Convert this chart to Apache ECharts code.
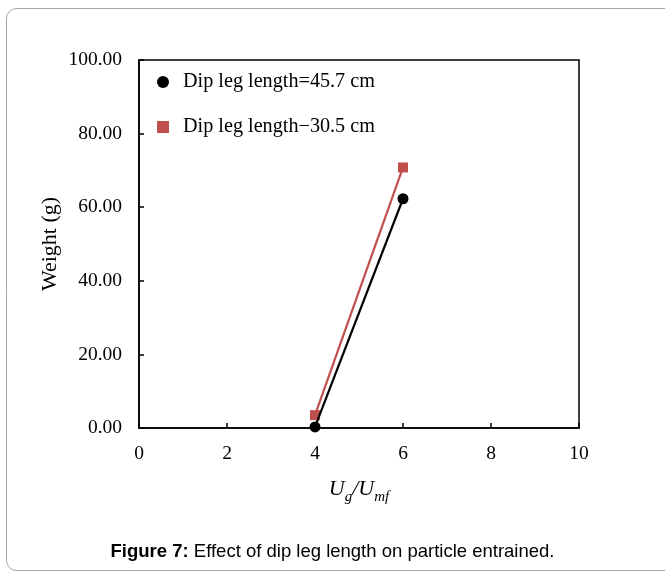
<!DOCTYPE html>
<html>
<head>
<meta charset="utf-8">
<script src="https://cdn.jsdelivr.net/npm/echarts@6/dist/echarts.min.js"></script>
<style>
  html, body { margin: 0; padding: 0; background: #fff; }
  #chart { width: 665px; height: 572px; }
</style>
</head>
<body>
<div id="chart"></div>
<script>
// values
const ugUmf = [4, 6]
const dipLeg457 = [0.3, 62.3]
const dipLeg305 = [3.5, 70.8]
const seriesNames = ['Dip leg length=45.7 cm', 'Dip leg length\u221230.5 cm']
const xTicks = [0, 2, 4, 6, 8, 10]
const yTicks = [0, 20, 40, 60, 80, 100]

const serif = 'Liberation Serif'
const red = '#c0504d'

const myChart = echarts.init(document.getElementById('chart'))

const option = {
  animation: false,
  backgroundColor: '#fff',
  title: {
    text: '{b|Figure 7:} Effect of dip leg length on particle entrained.',
    left: 'center',
    top: 537,
    textStyle: {
      fontFamily: 'Liberation Sans',
      fontSize: 18.5,
      fontWeight: 'normal',
      color: '#000',
      rich: {
        b: { fontFamily: 'Liberation Sans', fontSize: 18.5, fontWeight: 'bold', color: '#000' }
      }
    }
  },
  graphic: [{
    type: 'rect',
    shape: { x: 6.5, y: 8.5, width: 700, height: 562, r: 10 },
    style: { fill: 'none', stroke: '#a6a6a6', lineWidth: 1 },
    z: -1
  }],
  legend: {
    orient: 'vertical',
    left: 152,
    top: 67,
    itemGap: 25,
    itemWidth: 12,
    itemHeight: 12,
    textStyle: { fontFamily: serif, fontSize: 20.2, color: '#000', padding: [0, 0, 0, 9] },
    data: [
      { name: seriesNames[0], icon: 'circle' },
      { name: seriesNames[1], icon: 'rect' }
    ]
  },
  grid: {
    left: 139,
    top: 60,
    width: 440,
    height: 368,
    show: true,
    borderColor: '#000',
    borderWidth: 1.5,
    containLabel: false
  },
  xAxis: {
    type: 'value',
    min: xTicks[0],
    max: xTicks[xTicks.length - 1],
    interval: 2,
    name: '{i|U}{s|g}{i|/U}{s|mf}',
    nameLocation: 'middle',
    nameGap: 50,
    nameMoveOverlap: false,
    nameTextStyle: {
      rich: {
        i: { fontFamily: serif, fontStyle: 'italic', fontSize: 22, color: '#000', verticalAlign: 'bottom' },
        s: { fontFamily: serif, fontStyle: 'italic', fontSize: 15, color: '#000', verticalAlign: 'bottom', padding: [0, 0, -5, 0] }
      }
    },
    axisLine: { lineStyle: { color: '#000', width: 1.5 } },
    axisTick: { inside: true, length: 5, lineStyle: { color: '#000', width: 1.5 } },
    axisLabel: { margin: 16, fontFamily: serif, fontSize: 19.5, color: '#000' },
    splitLine: { show: false }
  },
  yAxis: {
    type: 'value',
    min: yTicks[0],
    max: yTicks[yTicks.length - 1],
    interval: 20,
    name: 'Weight (g)',
    nameLocation: 'middle',
    nameGap: 78,
    nameMoveOverlap: false,
    nameTextStyle: { fontFamily: serif, fontSize: 22, color: '#000' },
    axisLine: { show: true, lineStyle: { color: '#000', width: 1.5 } },
    axisTick: { show: true, inside: true, length: 5, lineStyle: { color: '#000', width: 1.5 } },
    axisLabel: {
      margin: 17,
      fontFamily: serif,
      fontSize: 19.5,
      color: '#000',
      formatter: v => v.toFixed(2)
    },
    splitLine: { show: false }
  },
  series: [
    {
      name: seriesNames[0],
      type: 'line',
      data: ugUmf.map((x, i) => [x, dipLeg457[i]]),
      symbol: 'circle',
      symbolSize: 11,
      itemStyle: { color: '#000' },
      lineStyle: { color: '#000', width: 2.2 },
      z: 3
    },
    {
      name: seriesNames[1],
      type: 'line',
      data: ugUmf.map((x, i) => [x, dipLeg305[i]]),
      symbol: 'rect',
      symbolSize: 10,
      itemStyle: { color: red },
      lineStyle: { color: red, width: 2.2 },
      z: 2
    }
  ]
}

myChart.setOption(option)
</script>
</body>
</html>
